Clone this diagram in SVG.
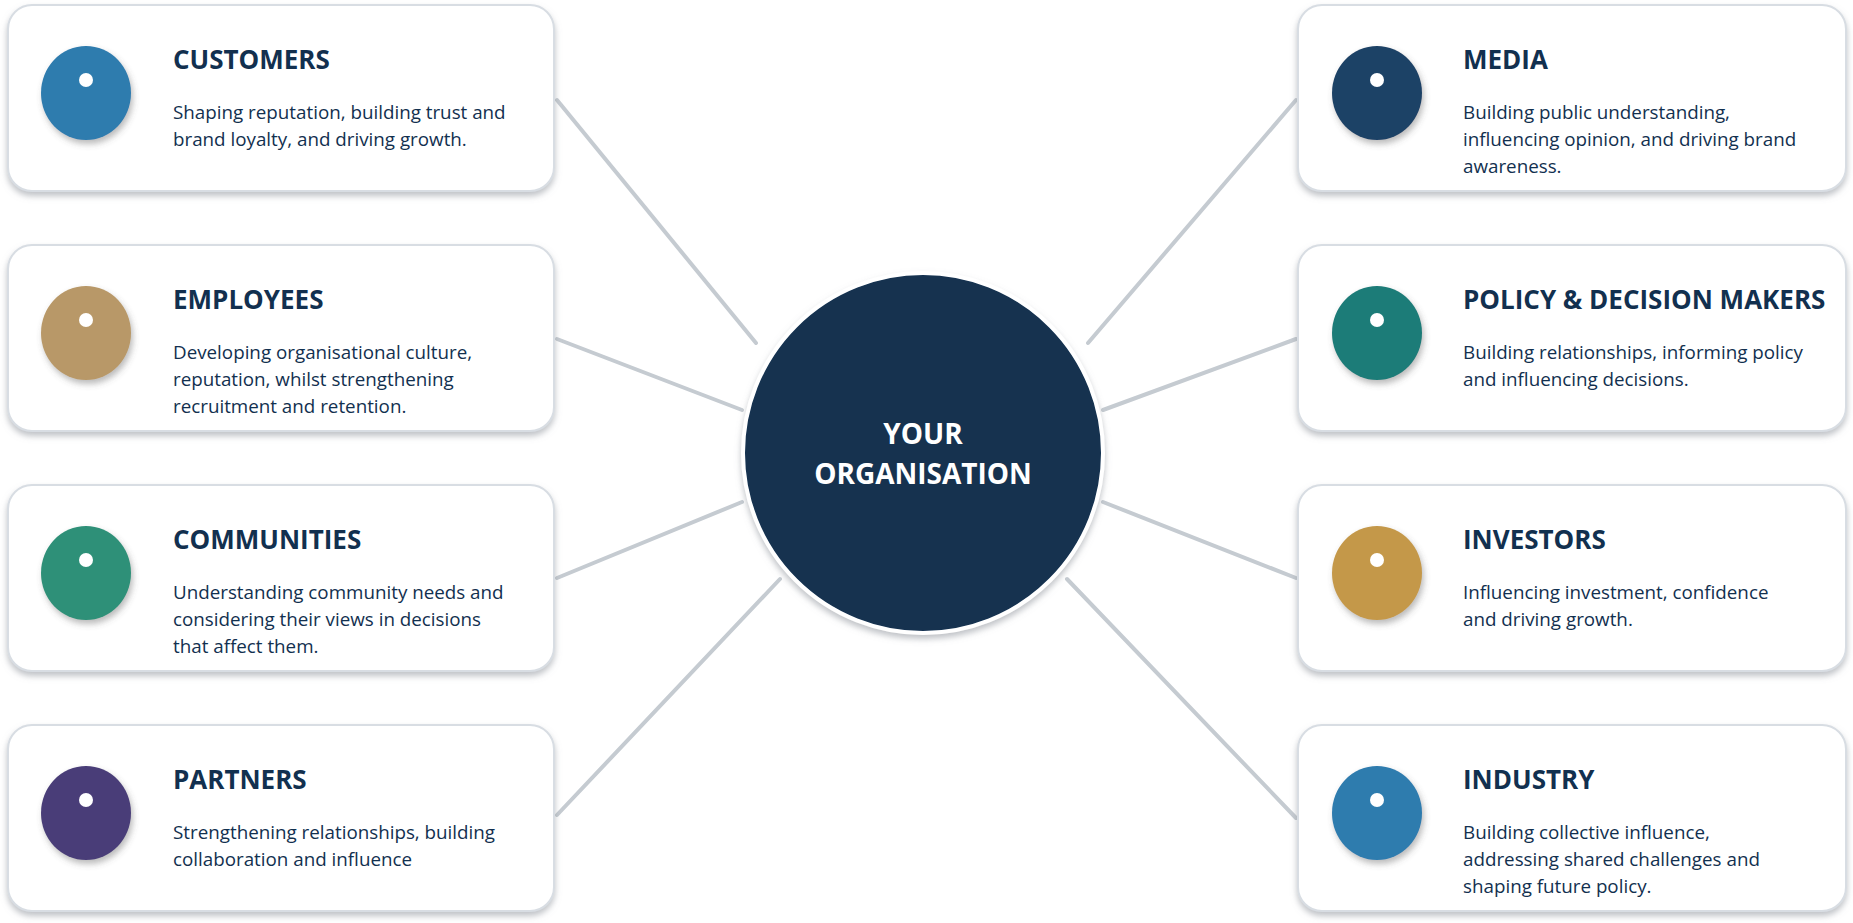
<svg xmlns="http://www.w3.org/2000/svg" width="1853" height="923" viewBox="0 0 1853 923">
<defs>
<filter id="sh" x="-10%" y="-10%" width="120%" height="130%"><feDropShadow dx="0" dy="4" stdDeviation="3" flood-color="#8a9098" flood-opacity="0.55"/></filter>
<filter id="ish" x="-20%" y="-20%" width="140%" height="150%"><feDropShadow dx="2" dy="4" stdDeviation="3" flood-color="#555" flood-opacity="0.4"/></filter>
</defs>
<style>
.box{fill:#fff;stroke:#d8dde3;stroke-width:2;filter:url(#sh)}
.t{font-family:"Open Sans","Liberation Sans",sans-serif;font-weight:bold;font-size:26px;fill:#12304F}
.d{font-family:"Open Sans","Liberation Sans",sans-serif;font-size:18.8px;fill:#12304F}
.dot{fill:#fff}
.c{stroke:#c5cbd1;stroke-width:4;stroke-linecap:round}
.ct{font-family:"Open Sans","Liberation Sans",sans-serif;font-weight:bold;font-size:28px;fill:#fff;text-anchor:middle}
</style>
<rect width="1853" height="923" fill="#fff"/>
<g id="connectors">
<line class="c" x1="557" y1="100" x2="756" y2="343"/>
<line class="c" x1="557" y1="339" x2="742" y2="410"/>
<line class="c" x1="557" y1="578" x2="742" y2="502"/>
<line class="c" x1="557" y1="815" x2="780" y2="579"/>
<line class="c" x1="1296" y1="100" x2="1088" y2="343"/>
<line class="c" x1="1296" y1="339" x2="1103" y2="410"/>
<line class="c" x1="1296" y1="578" x2="1103" y2="502"/>
<line class="c" x1="1296" y1="818" x2="1067" y2="579"/>
</g>
<g id="center">
<circle cx="923" cy="453" r="180" fill="#12304F" stroke="#fff" stroke-width="4" filter="url(#sh)"/>
<text class="ct" x="923" y="444">YOUR</text>
<text class="ct" x="923" y="484">ORGANISATION</text>
</g>
<g id="customers">
<rect class="box" x="8" y="5" width="546" height="186" rx="24"/>
<ellipse cx="86" cy="93" rx="45" ry="47" fill="#2E7BAE" filter="url(#ish)"/><circle class="dot" cx="86" cy="80" r="7"/>
<text class="t" x="173" y="69">CUSTOMERS</text>
<text class="d" x="173" y="119">Shaping reputation, building trust and</text>
<text class="d" x="173" y="146">brand loyalty, and driving growth.</text>
</g>
<g id="employees">
<rect class="box" x="8" y="245" width="546" height="186" rx="24"/>
<ellipse cx="86" cy="333" rx="45" ry="47" fill="#B89868" filter="url(#ish)"/><circle class="dot" cx="86" cy="320" r="7"/>
<text class="t" x="173" y="309">EMPLOYEES</text>
<text class="d" x="173" y="359">Developing organisational culture,</text>
<text class="d" x="173" y="386">reputation, whilst strengthening</text>
<text class="d" x="173" y="413">recruitment and retention.</text>
</g>
<g id="communities">
<rect class="box" x="8" y="485" width="546" height="186" rx="24"/>
<ellipse cx="86" cy="573" rx="45" ry="47" fill="#2F9078" filter="url(#ish)"/><circle class="dot" cx="86" cy="560" r="7"/>
<text class="t" x="173" y="549">COMMUNITIES</text>
<text class="d" x="173" y="599">Understanding community needs and</text>
<text class="d" x="173" y="626">considering their views in decisions</text>
<text class="d" x="173" y="653">that affect them.</text>
</g>
<g id="partners">
<rect class="box" x="8" y="725" width="546" height="186" rx="24"/>
<ellipse cx="86" cy="813" rx="45" ry="47" fill="#4A3E78" filter="url(#ish)"/><circle class="dot" cx="86" cy="800" r="7"/>
<text class="t" x="173" y="789">PARTNERS</text>
<text class="d" x="173" y="839">Strengthening relationships, building</text>
<text class="d" x="173" y="866">collaboration and influence</text>
</g>
<g id="media">
<rect class="box" x="1298" y="5" width="548" height="186" rx="24"/>
<ellipse cx="1377" cy="93" rx="45" ry="47" fill="#1E4266" filter="url(#ish)"/><circle class="dot" cx="1377" cy="80" r="7"/>
<text class="t" x="1463" y="69">MEDIA</text>
<text class="d" x="1463" y="119">Building public understanding,</text>
<text class="d" x="1463" y="146">influencing opinion, and driving brand</text>
<text class="d" x="1463" y="173">awareness.</text>
</g>
<g id="policy">
<rect class="box" x="1298" y="245" width="548" height="186" rx="24"/>
<ellipse cx="1377" cy="333" rx="45" ry="47" fill="#1E7B78" filter="url(#ish)"/><circle class="dot" cx="1377" cy="320" r="7"/>
<text class="t" x="1463" y="309">POLICY &amp; DECISION MAKERS</text>
<text class="d" x="1463" y="359">Building relationships, informing policy</text>
<text class="d" x="1463" y="386">and influencing decisions.</text>
</g>
<g id="investors">
<rect class="box" x="1298" y="485" width="548" height="186" rx="24"/>
<ellipse cx="1377" cy="573" rx="45" ry="47" fill="#C4984A" filter="url(#ish)"/><circle class="dot" cx="1377" cy="560" r="7"/>
<text class="t" x="1463" y="549">INVESTORS</text>
<text class="d" x="1463" y="599">Influencing investment, confidence</text>
<text class="d" x="1463" y="626">and driving growth.</text>
</g>
<g id="industry">
<rect class="box" x="1298" y="725" width="548" height="186" rx="24"/>
<ellipse cx="1377" cy="813" rx="45" ry="47" fill="#2E7BAE" filter="url(#ish)"/><circle class="dot" cx="1377" cy="800" r="7"/>
<text class="t" x="1463" y="789">INDUSTRY</text>
<text class="d" x="1463" y="839">Building collective influence,</text>
<text class="d" x="1463" y="866">addressing shared challenges and</text>
<text class="d" x="1463" y="893">shaping future policy.</text>
</g>
</svg>
